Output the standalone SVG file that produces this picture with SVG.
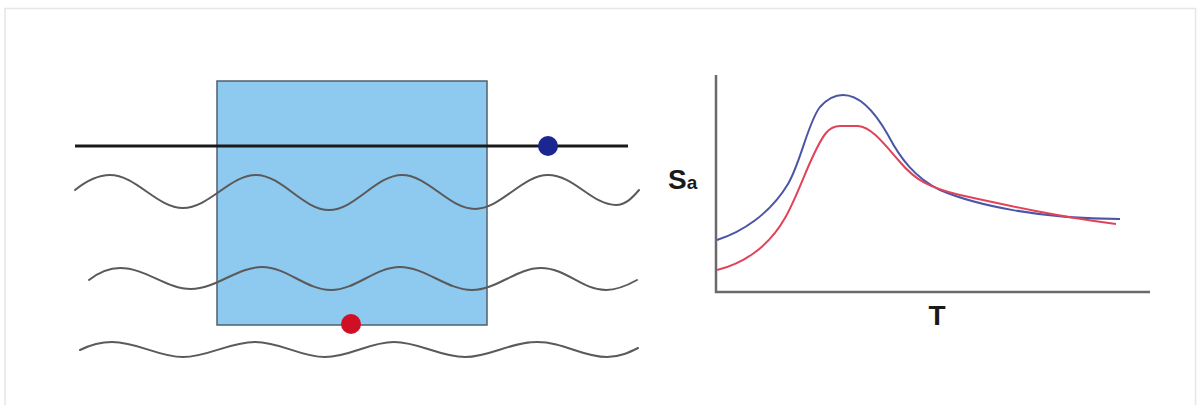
<svg xmlns="http://www.w3.org/2000/svg" width="1200" height="405" viewBox="0 0 1200 405">
<style>
.frame{fill:none;stroke:#e6e6e6;stroke-width:1.5}
.wave{fill:none;stroke:#5a5a5a;stroke-width:2;stroke-linecap:round}
.axis{fill:none;stroke:#6a6a6a;stroke-width:2.5}
.lbl{font-family:"Liberation Sans",Arial,sans-serif;font-weight:bold;fill:#1a1a1a}
</style>
<rect width="1200" height="405" fill="#ffffff"/>
<path class="frame" d="M5,410 V8.5 H1195.5 V410"/>
<g id="block">
<rect x="217" y="81" width="270" height="244" fill="#8ecaef" stroke="#4f5f6e" stroke-width="1.5"/>
</g>
<g id="waves">
<path class="wave" d="M75,190 C85,182 98,175 110,175 C136,175 157,208 183,208 S230,175 256,175 S303,210 329,210 S376,175 402,175 S449,209 475,209 S522,175 548,175 S592,205 616,205 C626,205 633,197 639,190"/>
<path class="wave" d="M89,280 C98,273 108,268 120,268 C146,268 166,289 191,289 S237,267 262,267 S306,290 331,290 S375,267 400,267 S447,290 472,290 S516,268 541,268 S582,290 606,290 C618,290 628,285 637,280"/>
<path class="wave" d="M80,350 C90,345 100,342 112,342 C138,342 158,357 183,357 S229,342 255,342 S300,357 325,357 S369,342 394,342 S440,357 465,357 S510,342 537,342 S582,357 607,357 C620,357 630,352 638,348"/>
</g>
<g id="rope">
<line x1="75" y1="146" x2="628" y2="146" stroke="#1a1a1a" stroke-width="3"/>
</g>
<g id="blue-dot"><circle cx="548" cy="146" r="10" fill="#1c2690"/></g>
<g id="red-dot"><circle cx="351" cy="324" r="10" fill="#d10f24"/></g>
<g id="chart">
<path class="axis" d="M716,75 V292 H1150"/>
<path d="M717,240 C742,232 770,214 788,184 C801,162 808,122 820,107 C828,98 836,95 843,95 C860,95 875,112 888,135 C900,158 915,178 940,190 C975,205 1040,219 1120,219" fill="none" stroke="#4a55a5" stroke-width="2"/>
<path d="M717,270 C742,264 768,248 785,218 C800,192 812,150 826,133 C831,127 835,126 840,126 L858,126 C872,127 885,145 900,162 C915,180 930,188 960,195 C1010,206 1060,217 1116,224" fill="none" stroke="#e0435a" stroke-width="2"/>
<text class="lbl" x="668" y="189" font-size="28">S<tspan font-size="19">a</tspan></text>
<text class="lbl" x="937" y="325" font-size="28" text-anchor="middle">T</text>
</g>
</svg>
